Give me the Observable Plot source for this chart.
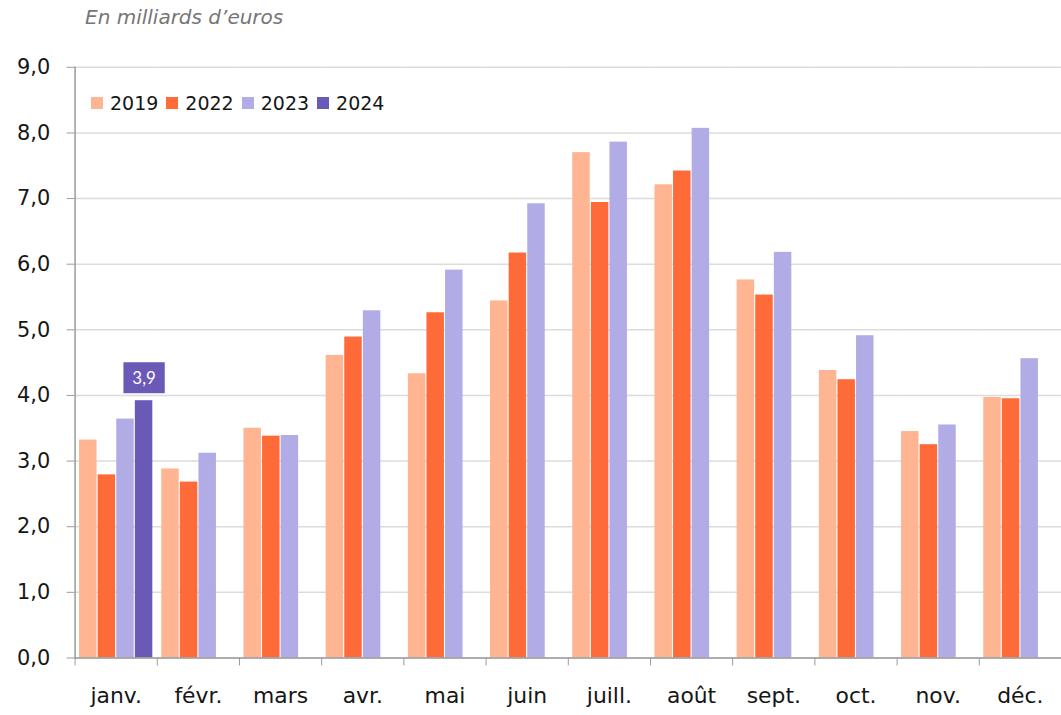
<!DOCTYPE html>
<html><head><meta charset="utf-8">
<script src="https://cdn.jsdelivr.net/npm/d3@7"></script>
<script src="https://cdn.jsdelivr.net/npm/@observablehq/plot@0.6"></script>
<style>
html,body{margin:0;padding:0;background:#fff;overflow:hidden;width:1061px;height:715px;}
#wrap{position:relative;width:1061px;height:715px;font-family:"DejaVu Sans",sans-serif;}
#sub{position:absolute;left:85px;top:5px;font-style:italic;color:#767676;font-size:20px;}
#chart{position:absolute;left:0;top:34px;}
#legend{position:absolute;left:91px;top:92px;display:flex;align-items:center;font-size:19px;color:#161616;}
#legend .it{display:flex;align-items:center;margin-right:8px;}
#legend .sw{width:12px;height:12px;margin-right:7px;}
</style></head>
<body><div id="wrap"><div id="sub">En milliards d’euros</div><div id="chart"></div><div id="legend"></div></div>
<script>
const months = ["janv.","févr.","mars","avr.","mai","juin","juill.","août","sept.","oct.","nov.","déc."];
const years = ["2019","2022","2023","2024"];
const colors = ["#ffb492","#ff6b38","#b1abe6","#6a59b7"];
const v2019 = [3.32,2.88,3.50,4.61,4.33,5.44,7.70,7.21,5.76,4.38,3.45,3.97];
const v2022 = [2.79,2.68,3.38,4.89,5.26,6.17,6.94,7.42,5.53,4.24,3.25,3.95];
const v2023 = [3.64,3.12,3.39,5.29,5.91,6.92,7.86,8.07,6.18,4.91,3.55,4.56];
const v2024 = [3.92];
const yTicks = [0,1,2,3,4,5,6,7,8,9];

const series = [v2019, v2022, v2023, v2024];
const rows = [];
series.forEach((vals, i) => vals.forEach((v, j) => rows.push({month: months[j], year: years[i], value: v})));

const W = 1067, H = 681, ML = 75, MR = 0;
const step = (W - ML - MR) / months.length;
const fmt = d => d.toFixed(1).replace(".", ",");

const chart = Plot.plot({
  width: W, height: H, marginLeft: ML, marginRight: MR, marginTop: 33, marginBottom: 54,
  style: {fontFamily: "'DejaVu Sans', sans-serif", fontSize: "21px", color: "#161616", background: "transparent", overflow: "visible"},
  fx: {domain: months, padding: 0, round: false, label: null},
  x: {domain: years, paddingInner: 0.06, paddingOuter: 0.24, round: false, axis: null},
  y: {domain: [0, 9], label: null},
  color: {domain: years, range: colors},
  marks: [
    Plot.gridY(yTicks, {stroke: "#dcdcdc", strokeOpacity: 1, strokeWidth: 1.5}),
    Plot.barY(rows, {fx: "month", x: "year", y: "value", fill: "year"}),
    Plot.ruleY([0], {stroke: "#9a9a9a", strokeWidth: 1.5}),
    Plot.frame({anchor: "left", facetAnchor: "left", stroke: "#9a9a9a", strokeWidth: 1.5}),
    Plot.axisY(yTicks, {tickSize: 8, tickPadding: 17, tickFormat: fmt, stroke: "#9a9a9a", fontSize: 21, label: null}),
    Plot.axisFx({anchor: "bottom", tickSize: 0, tickPadding: 30, fontSize: 22, label: null}),
    Plot.axisFx({anchor: "bottom", tickSize: 8, tickFormat: () => "", dx: -step / 2, stroke: "#9a9a9a", label: null}),
    Plot.text(rows.filter(d => d.year === "2024"), {fx: "month", x: "year", y: "value", text: d => fmt(d.value), dy: -22, fill: "white", fontSize: 17, fontFamily: "Lato, sans-serif"})
  ]
});
document.getElementById("chart").appendChild(chart);

// background boxes behind value labels
chart.querySelectorAll("text").forEach(t => {
  const g = t.closest('g[fill="white"]');
  if (!g) return;
  const b = t.getBBox();
  const r = document.createElementNS("http://www.w3.org/2000/svg", "rect");
  r.setAttribute("x", b.x - 9); r.setAttribute("y", b.y - 5);
  r.setAttribute("width", b.width + 18); r.setAttribute("height", b.height + 10);
  r.setAttribute("fill", colors[3]);
  if (t.getAttribute("transform")) r.setAttribute("transform", t.getAttribute("transform"));
  t.parentNode.insertBefore(r, t);
});

const lg = document.getElementById("legend");
years.forEach((y, i) => {
  const it = document.createElement("div"); it.className = "it";
  const sw = document.createElement("div"); sw.className = "sw"; sw.style.background = colors[i];
  const tx = document.createElement("span"); tx.textContent = y;
  it.appendChild(sw); it.appendChild(tx); lg.appendChild(it);
});
</script></body></html>
